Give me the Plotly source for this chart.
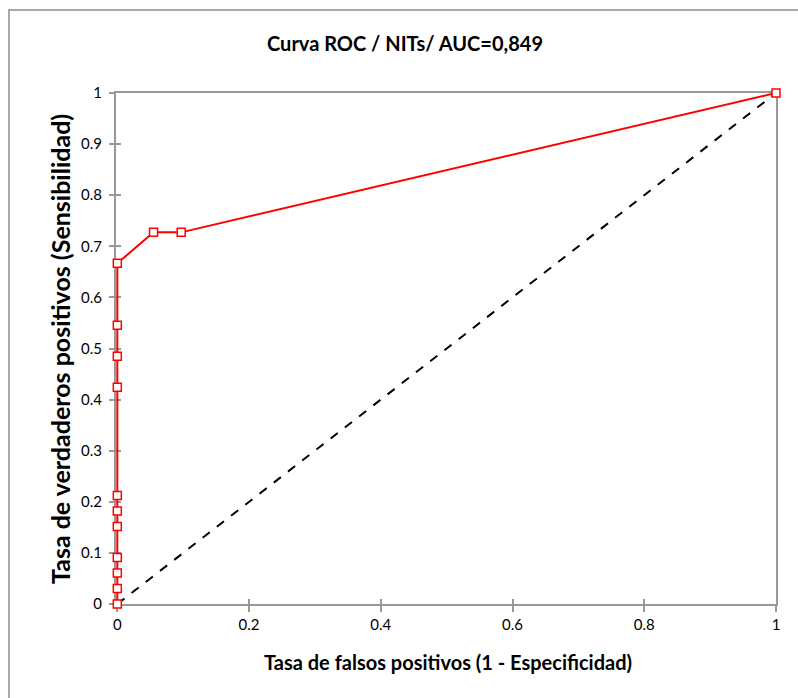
import plotly.graph_objects as go

fpr = [0, 0, 0, 0, 0, 0, 0, 0, 0, 0, 0, 0.055, 0.097, 1]
tpr = [0, 0.0303, 0.0606, 0.0909, 0.1515, 0.1818, 0.2121, 0.4242, 0.4848, 0.5455, 0.6667, 0.7273, 0.7273, 1]
diag_x = [0, 1]
diag_y = [0, 1]
x_ticks = [0, 0.2, 0.4, 0.6, 0.8, 1]
y_ticks = [0, 0.1, 0.2, 0.3, 0.4, 0.5, 0.6, 0.7, 0.8, 0.9, 1]

W, H = 798, 698
L, R, T, B = 116, 22, 93, 94
pw, ph = W - L - R, H - T - B

def px(x):
    return (x - L) / pw

def py(y):
    return (H - B - y) / ph

FONT = "Lato, Open Sans, sans-serif"
AX = "#999999"
XR = [-0.002, 1]
YR = [0, 1]

fig = go.Figure()
fig.add_trace(go.Scatter(x=diag_x, y=diag_y, mode="lines",
                         line=dict(color="black", width=2, dash="dash"),
                         hoverinfo="skip", showlegend=False, cliponaxis=False))
fig.add_trace(go.Scatter(x=fpr, y=tpr, mode="lines+markers",
                         line=dict(color="#ff0000", width=2),
                         marker=dict(symbol="square", size=8, color="white",
                                     line=dict(color="#ff0000", width=1.5)),
                         showlegend=False, cliponaxis=False))
# invisible trace to host the overlay axes that draw the inner half of the cross ticks
fig.add_trace(go.Scatter(x=diag_x, y=diag_y, xaxis="x2", yaxis="y2", mode="lines",
                         line=dict(width=0, color="rgba(0,0,0,0)"),
                         hoverinfo="skip", showlegend=False))

common = dict(showgrid=False, zeroline=False, fixedrange=True)

fig.update_layout(
    width=W, height=H,
    margin=dict(l=L, r=R, t=T, b=B),
    paper_bgcolor="white", plot_bgcolor="white",
    font=dict(family=FONT, size=15, color="black"),
    title=dict(text="<b>Curva ROC / NITs/ AUC=0,849</b>", x=px(405), xref="paper",
               xanchor="center", y=1 - 44 / H, yanchor="middle",
               font=dict(size=20, family=FONT, color="black")),
    xaxis=dict(**common, range=XR, tickvals=x_ticks, ticktext=[f"{v:g}" for v in x_ticks],
               showline=True, linecolor=AX, linewidth=2, mirror=True,
               ticks="outside", ticklen=6, tickcolor=AX, tickwidth=1.5,
               tickfont=dict(size=15, family=FONT), layer="below traces"),
    yaxis=dict(**common, range=YR, tickvals=y_ticks, ticktext=[f"{v:g}" for v in y_ticks],
               showline=True, linecolor=AX, linewidth=2, mirror=True,
               ticks="outside", ticklen=5, tickcolor=AX, tickwidth=1.5, ticklabelstandoff=4,
               tickfont=dict(size=15, family=FONT), layer="below traces"),
    xaxis2=dict(**common, range=XR, overlaying="x", tickvals=x_ticks, showticklabels=False,
                ticks="inside", ticklen=5, tickcolor=AX, tickwidth=1.5,
                showline=False, side="bottom", anchor="y2", layer="below traces"),
    yaxis2=dict(**common, range=YR, overlaying="y", tickvals=y_ticks, showticklabels=False,
                ticks="inside", ticklen=5, tickcolor=AX, tickwidth=1.5,
                showline=False, side="left", anchor="x2", layer="below traces"),
    annotations=[
        dict(text="<b>Tasa de falsos positivos (1 - Especificidad)</b>", xref="paper",
             yref="paper", x=px(448), y=py(662), xanchor="center", yanchor="middle",
             showarrow=False, font=dict(size=20, family=FONT)),
        dict(text="<b>Tasa de verdaderos positivos (Sensibilidad)</b>", xref="paper",
             yref="paper", x=px(60), y=py(349), xanchor="center", yanchor="middle",
             textangle=-90, showarrow=False, font=dict(size=25, family=FONT)),
    ],
    shapes=[
        dict(type="rect", xref="paper", yref="paper", x0=px(9), y0=py(H + 10),
             x1=px(W + 10), y1=py(10), line=dict(color="#8c8c8c", width=1.5),
             fillcolor="rgba(0,0,0,0)", layer="below"),
    ],
)

fig.write_html("out.html", config={"displayModeBar": False},
               post_script="document.body.style.margin='0';")
